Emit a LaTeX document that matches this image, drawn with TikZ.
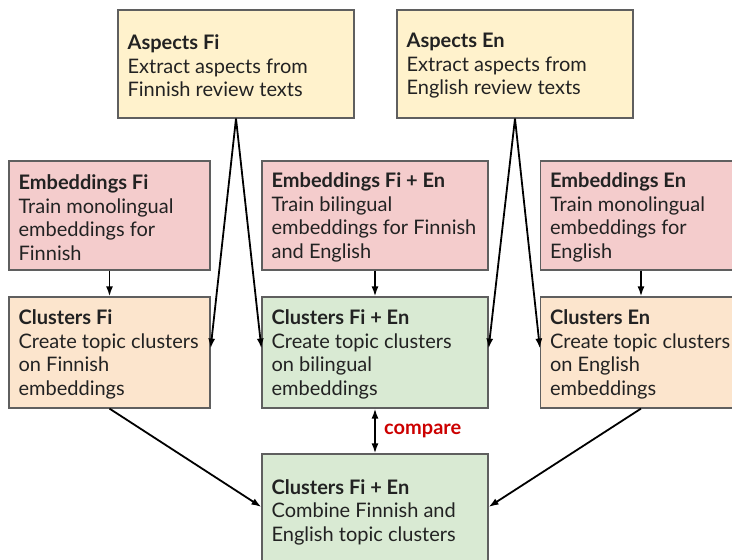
\documentclass[tikz,border=0pt]{standalone}
\usepackage{fontspec}
\setmainfont{Lato}
\usepackage{tikz}
\usetikzlibrary{positioning,arrows.meta}

\definecolor{aspectfill}{HTML}{FFF2CC}
\definecolor{embedfill}{HTML}{F4CCCC}
\definecolor{clusterfill}{HTML}{FCE5CD}
\definecolor{jointfill}{HTML}{D9EAD3}
\definecolor{boxline}{HTML}{5F5F5F}
\definecolor{boxtextcol}{HTML}{222222}
\definecolor{comparered}{HTML}{CC0000}

\begin{document}
\begin{tikzpicture}[x=1pt,y=-1pt,
  box/.style={rectangle,draw=boxline,line width=1.2pt,inner sep=0pt},
  boxtext/.style={anchor=west,align=left,inner sep=0pt,text=boxtextcol,
    font=\fontsize{20}{23.5}\selectfont},
  flow/.style={-{Latex[length=10pt,width=7pt]},line width=1.8pt}]

\clip (0,0) rectangle (732,560);

% boxes: name/x/y/width/height/fill/title/description
\foreach \name/\x/\y/\w/\h/\shade/\title/\body in {
    asfi/236/64/236/108/aspectfill/Aspects Fi/Extract aspects from\\Finnish review texts,
    asen/515/64/236/108/aspectfill/Aspects En/Extract aspects from\\English review texts,
    emfi/109.5/215.5/201/109/embedfill/Embeddings Fi/Train monolingual\\embeddings for\\Finnish,
    emfe/375/215.5/226/109/embedfill/Embeddings Fi + En/Train bilingual\\embeddings for Finnish\\and English,
    emen/641/215.5/201/109/embedfill/Embeddings En/Train monolingual\\embeddings for\\English,
    clfi/109.5/352.5/201/111/clusterfill/Clusters Fi/Create topic clusters\\on Finnish\\embeddings,
    clfe/375/352.5/226/111/jointfill/Clusters Fi + En/Create topic clusters\\on bilingual\\embeddings,
    clen/641/352.5/201/111/clusterfill/Clusters En/Create topic clusters\\on English\\embeddings,
    comb/375/510/226/112/jointfill/Clusters Fi + En/Combine Finnish and\\English topic clusters} {
    \node[box,fill=\shade,minimum width=\w pt,minimum height=\h pt] (\name) at (\x,\y) {};
    \node[boxtext,right=10pt of \name.west,yshift=-2pt] (\name-text) {\textbf{\title}\\\body};
}

% embeddings feed the clustering step below them
\foreach \a/\b in {emfi/clfi, emfe/clfe, emen/clen} {
    \draw[flow] (\a) -- (\b);
}

% aspects go to the clusters on both sides
\draw[flow] (asfi.south) -- ([yshift=4pt]clfi.east);
\draw[flow] (asfi.south) -- ([yshift=4pt]clfe.west);
\draw[flow] (asen.south) -- ([yshift=4pt]clfe.east);
\draw[flow] (asen.south) -- ([yshift=4pt]clen.west);

\draw[flow] (clfi.south) -- ([yshift=3pt]comb.west);
\draw[flow] (clen.south) -- ([yshift=3pt]comb.east);

\draw[flow,{Latex[length=10pt,width=7pt]}-{Latex[length=10pt,width=7pt]}] (clfe.south) -- (comb.north)
    node[midway,right=5pt,text=comparered,font=\fontsize{20}{22}\selectfont\bfseries] (cmp) {compare};
\end{tikzpicture}
\end{document}
